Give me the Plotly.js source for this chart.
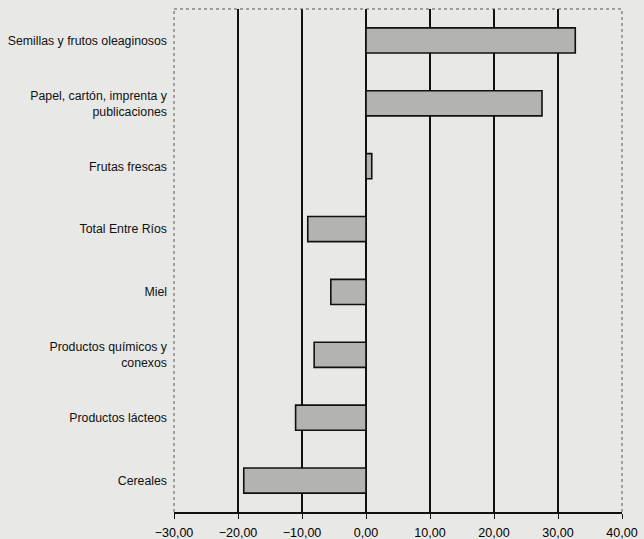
<!DOCTYPE html>
<html>
<head>
<meta charset="utf-8">
<script src="https://cdn.plot.ly/plotly-3.0.1.min.js"></script>
<style>html,body{margin:0;padding:0;background:#e8e8e6;}</style>
</head>
<body>
<div id="chart" style="width:644px;height:539px;"></div>
<script>
const categories = [
  "Semillas y frutos oleaginosos",
  "Papel, cartón, imprenta y<br>publicaciones",
  "Frutas frescas",
  "Total Entre Ríos",
  "Miel",
  "Productos químicos y<br>conexos",
  "Productos lácteos",
  "Cereales"
];
const values = [32.7, 27.5, 0.9, -9.1, -5.5, -8.1, -11.0, -19.1];
const tickValues = [-30, -20, -10, 0, 10, 20, 30, 40];

const trace = {
  type: "bar",
  orientation: "h",
  y: categories,
  x: values,
  width: 0.4,
  marker: {color: "#b3b3b1", line: {color: "#111111", width: 1.6}},
  hoverinfo: "x+y"
};

const dashed = {color: "#555555", width: 1, dash: "dot"};
const layout = {
  width: 644, height: 539,
  margin: {l: 174, r: 22, t: 9, b: 27},
  paper_bgcolor: "#e8e8e6",
  plot_bgcolor: "#e8e8e6",
  separators: ",.",
  showlegend: false,
  font: {family: "Arial, Liberation Sans, sans-serif", color: "#111111", size: 12},
  xaxis: {
    range: [-30, 40],
    tickvals: tickValues,
    tickformat: ".2f",
    showgrid: true, gridcolor: "#111111", gridwidth: 1.1,
    zeroline: true, zerolinecolor: "#111111", zerolinewidth: 1.1,
    showline: true, linecolor: "#111111", linewidth: 1.5,
    ticks: "outside", ticklen: 5, tickcolor: "#111111",
    ticklabelstandoff: 3,
    tickfont: {size: 12.5, color: "#000000"},
    fixedrange: true
  },
  yaxis: {
    type: "category",
    autorange: "reversed",
    showgrid: false, zeroline: false, showline: false,
    ticks: "", ticklabelstandoff: 6,
    tickfont: {size: 12.3, color: "#111111"},
    fixedrange: true
  },
  shapes: [
    {type: "line", xref: "paper", yref: "paper", x0: 0, x1: 0, y0: 0, y1: 1, line: dashed},
    {type: "line", xref: "paper", yref: "paper", x0: 1, x1: 1, y0: 0, y1: 1, line: dashed},
    {type: "line", xref: "paper", yref: "paper", x0: 0, x1: 1, y0: 1, y1: 1, line: dashed}
  ]
};

Plotly.newPlot("chart", [trace], layout, {displayModeBar: false, staticPlot: true});
</script>
</body>
</html>
